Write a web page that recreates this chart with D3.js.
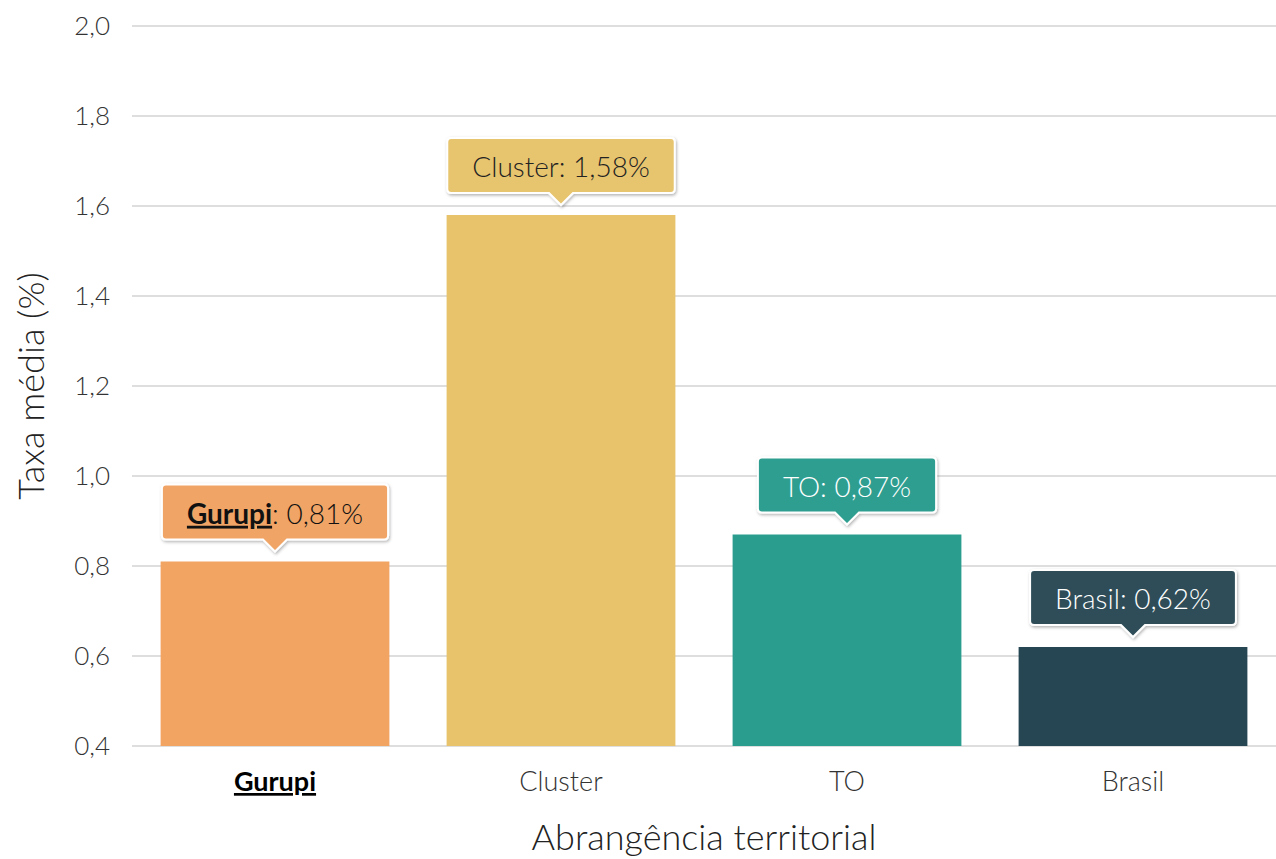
<!DOCTYPE html>
<html><head><meta charset="utf-8">
<script src="https://cdn.jsdelivr.net/npm/d3@7"></script>
<style>
body{margin:0;background:#fff;}
svg{display:block;font-family:Lato,"Open Sans",sans-serif;}
</style></head>
<body>
<svg id="chart" width="1276" height="859"></svg>
<script>
const categories = ["Gurupi", "Cluster", "TO", "Brasil"];
const values = [0.81, 1.58, 0.87, 0.62];
const yTicks = [0.4, 0.6, 0.8, 1.0, 1.2, 1.4, 1.6, 1.8, 2.0];
const barColors = ["#F2A462", "#E8C36C", "#2A9D8F", "#264653"];
const tipColors = ["#F0A466", "#E7C46E", "#2E9E90", "#2F4E59"];
const tipText = ["#111", "#222", "#fff", "#fff"];

const svg = d3.select("#chart");
const m = {left: 132, right: 0, top: 26, bottom: 113};
const W = 1276, H = 859;
const x = d3.scaleBand().domain(categories).range([m.left, W - m.right]).paddingInner(0.2).paddingOuter(0.1);
const y = d3.scaleLinear().domain([0.4, 2.0]).range([H - m.bottom, m.top]);

const defs = svg.append("defs");
const f = defs.append("filter").attr("id", "sh").attr("x", "-20%").attr("y", "-30%").attr("width", "140%").attr("height", "170%");
f.append("feDropShadow").attr("dx", 1).attr("dy", 1.5).attr("stdDeviation", 1.5).attr("flood-color", "#000").attr("flood-opacity", 0.3);

// grid
svg.append("g").selectAll("line").data(yTicks).join("line")
  .attr("x1", m.left).attr("x2", W).attr("y1", d => y(d)).attr("y2", d => y(d))
  .attr("stroke", "#dedede").attr("stroke-width", 2);

// y tick labels
svg.append("g").selectAll("text").data(yTicks).join("text")
  .attr("x", 110).attr("y", d => y(d)).attr("dy", "0.35em").attr("text-anchor", "end")
  .attr("font-size", 26).attr("font-weight", 300).attr("fill", "#333")
  .text(d => d.toFixed(1).replace(".", ","));

// bars
svg.append("g").selectAll("rect").data(categories).join("rect")
  .attr("x", d => x(d)).attr("width", x.bandwidth())
  .attr("y", (d, i) => y(values[i])).attr("height", (d, i) => y(0.4) - y(values[i]))
  .attr("fill", (d, i) => barColors[i]);

// category labels
svg.append("g").selectAll("text").data(categories).join("text")
  .attr("x", d => x(d) + x.bandwidth() / 2).attr("y", 791).attr("text-anchor", "middle")
  .attr("font-size", 27)
  .attr("font-weight", (d, i) => i === 0 ? 700 : 300)
  .attr("fill", (d, i) => i === 0 ? "#000" : "#333")
  .attr("text-decoration", (d, i) => i === 0 ? "underline" : null)
  .text(d => d);

// axis titles
svg.append("text").attr("x", (m.left + W) / 2).attr("y", 850).attr("text-anchor", "middle")
  .attr("font-size", 36).attr("font-weight", 300).attr("fill", "#222").text("Abrangência territorial");
svg.append("text").attr("transform", `translate(44,${(y(0.4) + y(2.0)) / 2}) rotate(-90)`)
  .attr("text-anchor", "middle").attr("font-size", 36).attr("font-weight", 300).attr("fill", "#222")
  .text("Taxa média (%)");

// tooltips
const tips = svg.append("g");
categories.forEach((c, i) => {
  const cx = x(c) + x.bandwidth() / 2;
  const tipY = y(values[i]) - 10;
  const bh = 55, ah = 12, aw = 12, r = 4;
  const g = tips.append("g");
  const t = g.append("text").attr("x", cx).attr("y", tipY - ah - bh / 2).attr("dy", "0.42em")
    .attr("text-anchor", "middle").attr("font-size", 28).attr("fill", tipText[i]);
  const val = values[i].toFixed(2).replace(".", ",") + "%";
  if (i === 0) {
    t.append("tspan").attr("font-weight", 700).attr("text-decoration", "underline").text(c);
    t.append("tspan").attr("font-weight", 300).text(": " + val);
  } else {
    t.append("tspan").attr("font-weight", 300).text(c + ": " + val);
  }
  const tw = t.node().getComputedTextLength();
  const bw = tw + 50;
  const x0 = cx - bw / 2, x1 = cx + bw / 2, yb = tipY - ah, yt = yb - bh;
  const p = `M${x0 + r},${yt} H${x1 - r} Q${x1},${yt} ${x1},${yt + r} V${yb - r} Q${x1},${yb} ${x1 - r},${yb}
    H${cx + aw} L${cx},${tipY} L${cx - aw},${yb} H${x0 + r} Q${x0},${yb} ${x0},${yb - r} V${yt + r} Q${x0},${yt} ${x0 + r},${yt} Z`;
  g.insert("path", "text").attr("d", p).attr("fill", tipColors[i]).attr("stroke", "#fff").attr("stroke-width", 2)
    .attr("filter", "url(#sh)");
});
</script>
</body></html>
